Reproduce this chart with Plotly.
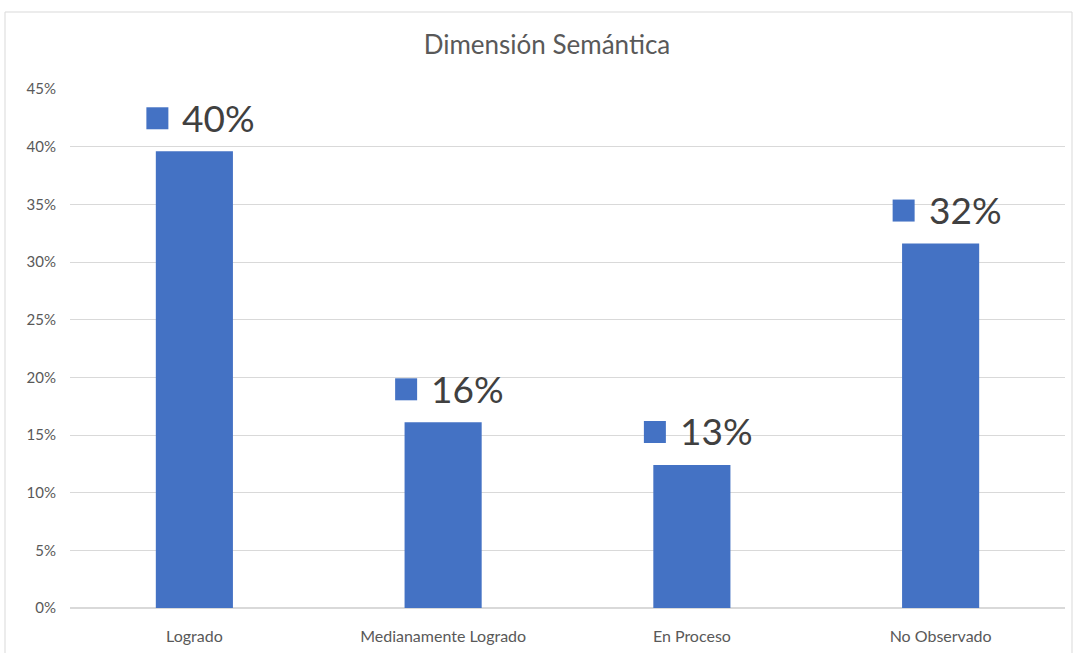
import plotly.graph_objects as go

categories = ["Logrado", "Medianamente Logrado", "En Proceso", "No Observado"]
values = [39.6, 16.1, 12.4, 31.6]
label_texts = ["40%", "16%", "13%", "32%"]
tick_vals = [0, 5, 10, 15, 20, 25, 30, 35, 40, 45]
tick_text = ["0%", "5%", "10%", "15%", "20%", "25%", "30%", "35%", "40%", "45%"]

W, H = 1074, 653
L, R, T, B = 70, 9, 89, 45
pw, ph = W - L - R, H - T - B

bar_color = "#4472C4"
font_family = "Lato, 'Open Sans', sans-serif"

fig = go.Figure()
fig.add_trace(go.Bar(x=categories, y=values, marker_color=bar_color,
                     marker_line_width=0, width=0.31, hoverinfo="skip"))

shapes = []
annotations = []
for i, (v, t) in enumerate(zip(values, label_texts)):
    shapes.append(dict(type="rect", xref="x", yref="y", xsizemode="pixel", ysizemode="pixel",
                       xanchor=i, yanchor=v, x0=-48, x1=-26, y0=22, y1=44,
                       fillcolor=bar_color, line_width=0))
    annotations.append(dict(x=i, y=v, xref="x", yref="y", text=t, showarrow=False,
                            xanchor="left", yanchor="middle", xshift=-14, yshift=34,
                            font=dict(size=37, color="#404040", family=font_family)))

def px_to_paper_x(px):
    return (px - L) / pw
def px_to_paper_y(py):
    return 1 - (py - T) / ph

shapes.append(dict(type="rect", xref="paper", yref="paper",
                   x0=px_to_paper_x(5), x1=px_to_paper_x(1072),
                   y0=px_to_paper_y(680), y1=px_to_paper_y(12),
                   line=dict(color="#d9d9d9", width=1), fillcolor="rgba(0,0,0,0)", layer="below"))

fig.update_layout(
    width=W, height=H,
    margin=dict(l=L, r=R, t=T, b=B),
    paper_bgcolor="white", plot_bgcolor="white",
    showlegend=False,
    title=dict(text="Dimensión Semántica", x=547 / W, xanchor="center",
               y=1 - 45 / H, yanchor="middle",
               font=dict(size=26, color="#595959", family=font_family)),
    xaxis=dict(showgrid=False, showline=False, ticks="", ticklabelstandoff=17,
               tickfont=dict(size=16, color="#595959", family=font_family),
               range=[-0.5, 3.5]),
    yaxis=dict(range=[0, 45], tickvals=tick_vals, ticktext=tick_text, showgrid=True,
               gridcolor="#d9d9d9", gridwidth=1, zeroline=True, zerolinecolor="#d9d9d9",
               showline=False, ticks="", ticklabelstandoff=13,
               tickfont=dict(size=15, color="#595959", family=font_family)),
    bargap=0.69,
    shapes=shapes,
    annotations=annotations,
)

fig.write_html("out.html")
